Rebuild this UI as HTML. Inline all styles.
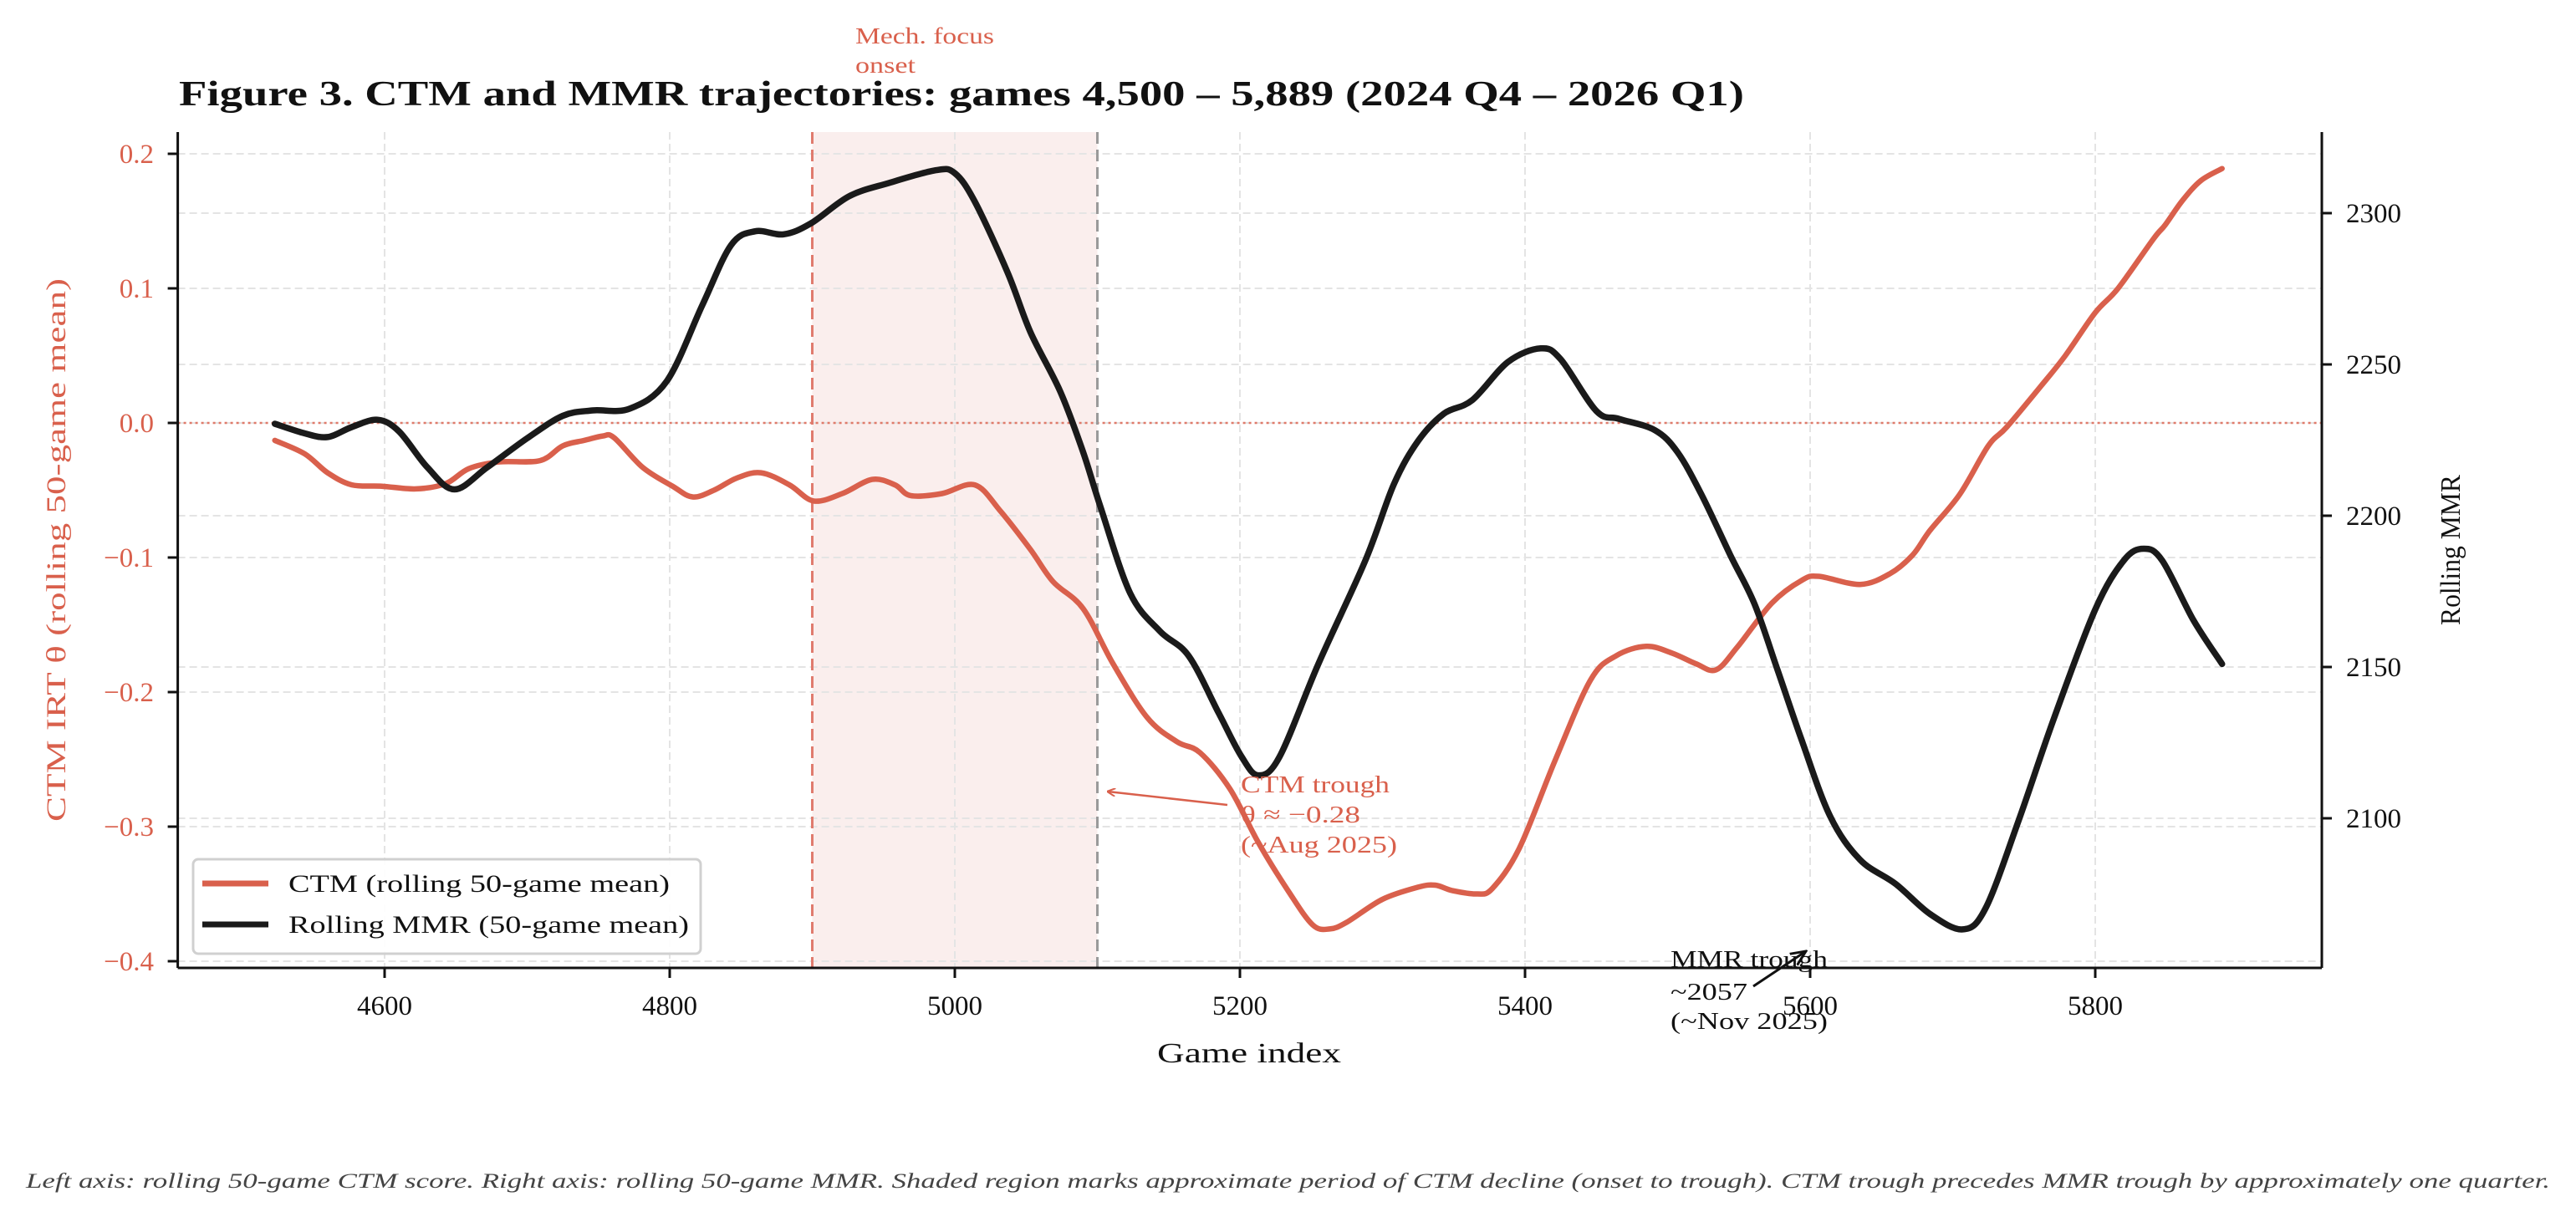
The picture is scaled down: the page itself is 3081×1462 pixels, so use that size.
<!DOCTYPE html>
<html><head><meta charset="utf-8">
<style>
html,body{margin:0;padding:0;background:#fff;}
svg{display:block;}
text{font-family:"Liberation Serif","DejaVu Serif",serif;}
</style></head>
<body>
<svg id="chart" width="3081" height="1462" viewBox="0 0 3081 1462" xmlns="http://www.w3.org/2000/svg">
<text x="214" y="126" font-size="42" font-weight="bold" fill="#111" textLength="1872" lengthAdjust="spacingAndGlyphs">Figure 3. CTM and MMR trajectories: games 4,500 – 5,889 (2024 Q4 – 2026 Q1)</text>
<g id="plot"></g>
<text transform="translate(78,658) rotate(-90)" text-anchor="middle" font-size="33" fill="#d9604c" textLength="650" lengthAdjust="spacingAndGlyphs">CTM IRT θ (rolling 50-game mean)</text>
<text transform="translate(2942,658) rotate(-90)" text-anchor="middle" font-size="34" fill="#111" textLength="180" lengthAdjust="spacingAndGlyphs">Rolling MMR</text>
<text x="1494" y="1271" text-anchor="middle" font-size="34" fill="#111" textLength="220" lengthAdjust="spacingAndGlyphs">Game index</text>
<text x="31" y="1421" font-size="25" font-style="italic" fill="#444" textLength="3019" lengthAdjust="spacingAndGlyphs">Left axis: rolling 50-game CTM score. Right axis: rolling 50-game MMR. Shaded region marks approximate period of CTM decline (onset to trough). CTM trough precedes MMR trough by approximately one quarter.</text>
</svg>
<script>
const ctmGames=[4523,4544,4560,4577,4598,4622,4643,4659,4680,4709,4725,4740,4753,4761,4781,4802,4816,4831,4847,4864,4884,4901,4921,4942,4958,4969,4991,5014,5032,5053,5069,5090,5111,5135,5156,5172,5193,5213,5234,5251,5263,5275,5300,5325,5337,5349,5366,5377,5396,5421,5446,5464,5485,5503,5520,5534,5549,5573,5594,5606,5635,5656,5672,5684,5705,5725,5738,5762,5779,5800,5816,5841,5849,5861,5874,5889];
const ctmValues=[-0.013,-0.023,-0.037,-0.046,-0.047,-0.049,-0.045,-0.034,-0.029,-0.028,-0.017,-0.013,-0.0097,-0.011,-0.033,-0.047,-0.055,-0.050,-0.041,-0.037,-0.046,-0.058,-0.0525,-0.042,-0.046,-0.054,-0.0525,-0.046,-0.0655,-0.094,-0.118,-0.138,-0.179,-0.219,-0.237,-0.245,-0.272,-0.312,-0.348,-0.373,-0.376,-0.371,-0.354,-0.345,-0.3435,-0.3475,-0.35,-0.346,-0.316,-0.251,-0.191,-0.173,-0.166,-0.171,-0.179,-0.1835,-0.1665,-0.134,-0.117,-0.114,-0.120,-0.112,-0.098,-0.080,-0.053,-0.017,-0.003,0.0275,0.050,0.082,0.100,0.137,0.147,0.165,0.180,0.189];
const mmrGames=[4523,4544,4560,4577,4595,4610,4630,4649,4672,4700,4725,4746,4772,4798,4823,4843,4860,4880,4899,4926,4954,4987,5000,5014,5037,5053,5074,5090,5102,5123,5144,5164,5185,5201,5213,5228,5255,5288,5308,5325,5343,5363,5388,5411,5425,5450,5466,5491,5507,5524,5544,5561,5577,5594,5614,5635,5660,5684,5707,5723,5746,5771,5800,5820,5834,5847,5869,5889];
const mmrValues=[2230.4,2227.2,2226,2229.3,2231.7,2227.9,2216,2208.7,2216,2225.6,2233,2234.8,2235.4,2244.5,2269.7,2289.4,2294,2293,2296.6,2305.6,2310,2314.2,2313.2,2303.8,2280.4,2260.7,2241,2221,2203.2,2174.4,2161.8,2153.7,2134.9,2120.5,2114.2,2120.5,2151,2185.2,2210.4,2224.7,2233.7,2238.2,2250.8,2255.3,2251.7,2234.6,2232,2228.3,2221,2206.8,2187,2170.8,2149.2,2125.9,2100.7,2086.3,2078.3,2068.4,2063.3,2070.2,2098.9,2133,2169,2185.2,2189.1,2185.2,2165.4,2151];
const xTicks=[4600,4800,5000,5200,5400,5600,5800];
const ctmTicks=[-0.4,-0.3,-0.2,-0.1,0.0,0.1,0.2];
const ctmTickLabels=["−0.4","−0.3","−0.2","−0.1","0.0","0.1","0.2"];
const mmrTicks=[2100,2150,2200,2250,2300];
const shadeRange=[4900,5100];

const L=212.6,R=2777,T=158,B=1158;
const X=g=>460+(g-4600)*1.705;
const YC=v=>506-v*1610;
const YM=m=>979-(m-2100)*3.62;
const NS="http://www.w3.org/2000/svg";
const plot=document.getElementById('plot');
function mk(tag,attrs,parent){const e=document.createElementNS(NS,tag);for(const k in attrs)e.setAttribute(k,attrs[k]);(parent||plot).appendChild(e);return e;}

let sh=mk('rect',{x:X(shadeRange[0]),y:T,width:X(shadeRange[1])-X(shadeRange[0]),height:B-T,fill:'#faeeed'});


const gridStyle={stroke:'#e4e4e4','stroke-width':2,'stroke-dasharray':'9,5'};
xTicks.forEach(t=>{const l=mk('line',Object.assign({x1:X(t),x2:X(t),y1:T,y2:B},gridStyle));

});
ctmTicks.forEach(t=>{const l=mk('line',Object.assign({x1:L,x2:R,y1:YC(t),y2:YC(t)},gridStyle));

});
mmrTicks.forEach(t=>{const l=mk('line',Object.assign({x1:L,x2:R,y1:YM(t),y2:YM(t)},gridStyle));

});
let z=mk('line',{x1:L,x2:R,y1:YC(0),y2:YC(0),stroke:'#df7a6a','stroke-width':2.5,'stroke-dasharray':'3,4'});


let v1=mk('line',{x1:X(shadeRange[0]),x2:X(shadeRange[0]),y1:T,y2:B,stroke:'#e07b6e','stroke-width':3,'stroke-dasharray':'14,7'});


let v2=mk('line',{x1:X(shadeRange[1]),x2:X(shadeRange[1]),y1:T,y2:B,stroke:'#9a9a9a','stroke-width':3,'stroke-dasharray':'14,7'});


function path(xs,ys,fx,fy){
  const p=xs.map((g,i)=>[fx(g),fy(ys[i])]);
  let d='M'+p[0][0].toFixed(1)+','+p[0][1].toFixed(1);
  for(let i=0;i<p.length-1;i++){
    const p0=p[i-1]||p[i],p1=p[i],p2=p[i+1],p3=p[i+2]||p2;
    const c1=[p1[0]+(p2[0]-p0[0])/6,p1[1]+(p2[1]-p0[1])/6];
    const c2=[p2[0]-(p3[0]-p1[0])/6,p2[1]-(p3[1]-p1[1])/6];
    d+=' C'+c1.map(n=>n.toFixed(1)).join(',')+' '+c2.map(n=>n.toFixed(1)).join(',')+' '+p2[0].toFixed(1)+','+p2[1].toFixed(1);
  }
  return d;}
let ctm=mk('path',{d:path(ctmGames,ctmValues,X,YC),fill:'none',stroke:'#d9604c','stroke-width':6.5,'stroke-linejoin':'round','stroke-linecap':'round'});


let mmr=mk('path',{d:path(mmrGames,mmrValues,X,YM),fill:'none',stroke:'#1a1a1a','stroke-width':7.5,'stroke-linejoin':'round','stroke-linecap':'round'});


[[L,T,L,B],[L,B,R,B],[R,T,R,B]].forEach(s=>{const l=mk('line',{x1:s[0],y1:s[1],x2:s[2],y2:s[3],stroke:'#111','stroke-width':3});

});
xTicks.forEach(t=>{mk('line',{x1:X(t),x2:X(t),y1:B,y2:B+12,stroke:'#111','stroke-width':3});
const tx=mk('text',{x:X(t),y:1214,'text-anchor':'middle','font-size':33,fill:'#111'});tx.textContent=t;

});
ctmTicks.forEach((t,i)=>{mk('line',{x1:L-12,x2:L,y1:YC(t),y2:YC(t),stroke:'#111','stroke-width':3});
const tx=mk('text',{x:184,y:YC(t)+11,'text-anchor':'end','font-size':33,fill:'#d9604c'});tx.textContent=ctmTickLabels[i];

});
mmrTicks.forEach(t=>{mk('line',{x1:R,x2:R+12,y1:YM(t),y2:YM(t),stroke:'#111','stroke-width':3});
const tx=mk('text',{x:2806,y:YM(t)+11,'font-size':33,fill:'#111'});tx.textContent=t;

});
</script>
<svg style="position:absolute;left:0;top:0" width="3081" height="1462">
<defs><marker id="ahr" markerWidth="10" markerHeight="10" refX="9" refY="5" orient="auto" markerUnits="userSpaceOnUse"><path d="M0,0 L10,5 L0,10" fill="none" stroke="#d9604c" stroke-width="2"/></marker>
<marker id="ahk" markerWidth="20" markerHeight="20" refX="18" refY="10" orient="auto" markerUnits="userSpaceOnUse"><path d="M0,2 L18,10 L0,18" fill="none" stroke="#111" stroke-width="3"/></marker></defs>
<g fill="#d9604c" font-size="27">
<text x="1023" y="52" textLength="166" lengthAdjust="spacingAndGlyphs">Mech. focus</text>
<text x="1023" y="87" textLength="72" lengthAdjust="spacingAndGlyphs">onset</text></g>
<line x1="1468" y1="963" x2="1325" y2="947" stroke="#d9604c" stroke-width="2.5" marker-end="url(#ahr)"/>
<g fill="#d9604c" font-size="29">
<text x="1484" y="948" textLength="178" lengthAdjust="spacingAndGlyphs">CTM trough</text>
<text x="1484" y="984" textLength="143" lengthAdjust="spacingAndGlyphs">θ ≈ −0.28</text>
<text x="1484" y="1020" textLength="187" lengthAdjust="spacingAndGlyphs">(~Aug 2025)</text></g>
<line x1="2097" y1="1180" x2="2160" y2="1138" stroke="#111" stroke-width="3" marker-end="url(#ahk)"/>
<g fill="#111" font-size="29">
<text x="1998" y="1157" textLength="188" lengthAdjust="spacingAndGlyphs">MMR trough</text>
<text x="1998" y="1196" textLength="92" lengthAdjust="spacingAndGlyphs">~2057</text>
<text x="1998" y="1231" textLength="188" lengthAdjust="spacingAndGlyphs">(~Nov 2025)</text></g>
<g>
<rect x="231" y="1028" width="607" height="113" rx="6" fill="#fff" fill-opacity="0.9" stroke="#d0d0d0" stroke-width="3"/>
<line x1="242" x2="321" y1="1057" y2="1057" stroke="#d9604c" stroke-width="7"/>
<text x="345" y="1067" font-size="30" fill="#111" textLength="456" lengthAdjust="spacingAndGlyphs">CTM (rolling 50-game mean)</text>
<line x1="242" x2="321" y1="1106" y2="1106" stroke="#1a1a1a" stroke-width="7"/>
<text x="345" y="1116" font-size="30" fill="#111" textLength="479" lengthAdjust="spacingAndGlyphs">Rolling MMR (50-game mean)</text>
</g>
</svg>
</body></html>
